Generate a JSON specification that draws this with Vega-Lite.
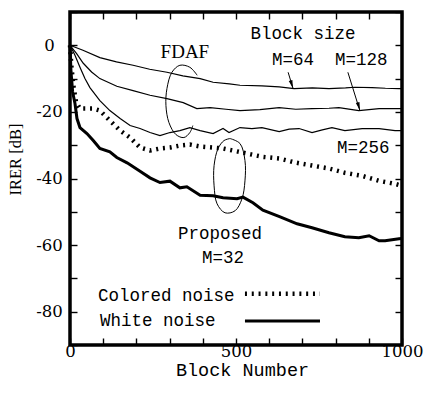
{
  "$schema": "https://vega.github.io/schema/vega-lite/v6.json",
  "autosize": {"type": "none"},
  "padding": {"left": 70, "top": 12, "right": 23, "bottom": 48},
  "width": 332,
  "height": 333,
  "background": "white",
  "config": {"view": {"stroke": "black", "strokeWidth": 3.5}, "axis": {"grid": false, "ticks": true, "tickColor": "#000000", "tickWidth": 1.4, "tickSize": 7}},
  "datasets": {
    "fdaf": [
      {"m": "M=64", "x": 0, "y": 0}, {"m": "M=64", "x": 39, "y": -1.5}, {"m": "M=64", "x": 90, "y": -3.7}, {"m": "M=64", "x": 140, "y": -5}, {"m": "M=64", "x": 190, "y": -6}, {"m": "M=64", "x": 240, "y": -7.2}, {"m": "M=64", "x": 292, "y": -8.1}, {"m": "M=64", "x": 340, "y": -9.2}, {"m": "M=64", "x": 392, "y": -10}, {"m": "M=64", "x": 431, "y": -11.1}, {"m": "M=64", "x": 480, "y": -11.6}, {"m": "M=64", "x": 512, "y": -12}, {"m": "M=64", "x": 578, "y": -12.2}, {"m": "M=64", "x": 630, "y": -12.5}, {"m": "M=64", "x": 675, "y": -13}, {"m": "M=64", "x": 730, "y": -12.8}, {"m": "M=64", "x": 780, "y": -13}, {"m": "M=64", "x": 830, "y": -12.8}, {"m": "M=64", "x": 858, "y": -12.6}, {"m": "M=64", "x": 910, "y": -12.7}, {"m": "M=64", "x": 950, "y": -12.9}, {"m": "M=64", "x": 991, "y": -13}, {"m": "M=64", "x": 1000, "y": -13},
      {"m": "M=128", "x": 0, "y": 0}, {"m": "M=128", "x": 20, "y": -2.5}, {"m": "M=128", "x": 40, "y": -5.4}, {"m": "M=128", "x": 65, "y": -8}, {"m": "M=128", "x": 90, "y": -10}, {"m": "M=128", "x": 141, "y": -12.3}, {"m": "M=128", "x": 190, "y": -13.6}, {"m": "M=128", "x": 241, "y": -15}, {"m": "M=128", "x": 292, "y": -16}, {"m": "M=128", "x": 341, "y": -17.2}, {"m": "M=128", "x": 382, "y": -19}, {"m": "M=128", "x": 422, "y": -18.7}, {"m": "M=128", "x": 470, "y": -19.2}, {"m": "M=128", "x": 512, "y": -19.6}, {"m": "M=128", "x": 572, "y": -19.3}, {"m": "M=128", "x": 630, "y": -18.7}, {"m": "M=128", "x": 680, "y": -19.2}, {"m": "M=128", "x": 729, "y": -19}, {"m": "M=128", "x": 780, "y": -18.9}, {"m": "M=128", "x": 810, "y": -18.7}, {"m": "M=128", "x": 870, "y": -19.6}, {"m": "M=128", "x": 931, "y": -19}, {"m": "M=128", "x": 991, "y": -19}, {"m": "M=128", "x": 1000, "y": -19},
      {"m": "M=256", "x": 0, "y": 0}, {"m": "M=256", "x": 15, "y": -3}, {"m": "M=256", "x": 30, "y": -6.6}, {"m": "M=256", "x": 45, "y": -10}, {"m": "M=256", "x": 60, "y": -12.7}, {"m": "M=256", "x": 90, "y": -16.6}, {"m": "M=256", "x": 120, "y": -19.6}, {"m": "M=256", "x": 151, "y": -22}, {"m": "M=256", "x": 181, "y": -24.1}, {"m": "M=256", "x": 211, "y": -25}, {"m": "M=256", "x": 241, "y": -26.2}, {"m": "M=256", "x": 271, "y": -27.1}, {"m": "M=256", "x": 301, "y": -26.2}, {"m": "M=256", "x": 331, "y": -25.6}, {"m": "M=256", "x": 361, "y": -24.7}, {"m": "M=256", "x": 392, "y": -25.6}, {"m": "M=256", "x": 431, "y": -26.5}, {"m": "M=256", "x": 461, "y": -25}, {"m": "M=256", "x": 479, "y": -26.2}, {"m": "M=256", "x": 512, "y": -24.7}, {"m": "M=256", "x": 548, "y": -25}, {"m": "M=256", "x": 578, "y": -24.7}, {"m": "M=256", "x": 630, "y": -25.9}, {"m": "M=256", "x": 660, "y": -25.2}, {"m": "M=256", "x": 690, "y": -25}, {"m": "M=256", "x": 729, "y": -26.2}, {"m": "M=256", "x": 760, "y": -25.4}, {"m": "M=256", "x": 789, "y": -24.7}, {"m": "M=256", "x": 828, "y": -25.6}, {"m": "M=256", "x": 880, "y": -25}, {"m": "M=256", "x": 931, "y": -25}, {"m": "M=256", "x": 979, "y": -25.6}, {"m": "M=256", "x": 1000, "y": -25.6}
    ],
    "colored": [
      {"x": 0, "y": 0}, {"x": 4, "y": -6}, {"x": 10, "y": -12}, {"x": 18, "y": -17}, {"x": 30, "y": -19}, {"x": 70, "y": -19}, {"x": 90, "y": -19.6}, {"x": 120, "y": -22.6}, {"x": 151, "y": -25.6}, {"x": 181, "y": -27.7}, {"x": 211, "y": -30.7}, {"x": 241, "y": -31.6}, {"x": 271, "y": -31}, {"x": 301, "y": -30.7}, {"x": 331, "y": -30.1}, {"x": 361, "y": -29.8}, {"x": 392, "y": -30.4}, {"x": 431, "y": -30.7}, {"x": 461, "y": -31}, {"x": 500, "y": -31.8}, {"x": 533, "y": -32.5}, {"x": 581, "y": -33.5}, {"x": 630, "y": -34}, {"x": 678, "y": -35.2}, {"x": 729, "y": -36.1}, {"x": 780, "y": -37}, {"x": 828, "y": -38.3}, {"x": 880, "y": -39.2}, {"x": 931, "y": -40.7}, {"x": 979, "y": -41.6}, {"x": 1000, "y": -42.2}
    ],
    "white": [
      {"x": 0, "y": 0}, {"x": 3, "y": -8}, {"x": 8, "y": -14}, {"x": 15, "y": -17.5}, {"x": 21, "y": -22}, {"x": 30, "y": -24.7}, {"x": 51, "y": -26.5}, {"x": 70, "y": -28.6}, {"x": 90, "y": -31}, {"x": 120, "y": -32}, {"x": 141, "y": -33.7}, {"x": 172, "y": -35.3}, {"x": 211, "y": -37.8}, {"x": 241, "y": -39.8}, {"x": 271, "y": -41.2}, {"x": 301, "y": -40.8}, {"x": 331, "y": -42.8}, {"x": 352, "y": -42.5}, {"x": 392, "y": -45}, {"x": 431, "y": -45.2}, {"x": 461, "y": -45.8}, {"x": 503, "y": -46.1}, {"x": 521, "y": -45.6}, {"x": 551, "y": -47.3}, {"x": 581, "y": -49.5}, {"x": 633, "y": -51.5}, {"x": 684, "y": -53.6}, {"x": 729, "y": -54.8}, {"x": 780, "y": -56.3}, {"x": 828, "y": -57.5}, {"x": 870, "y": -57.8}, {"x": 901, "y": -57.2}, {"x": 931, "y": -58.7}, {"x": 949, "y": -58.7}, {"x": 991, "y": -58.1}, {"x": 1000, "y": -58}
    ],
    "loops": [
      {"loop": "FDAF", "i": 0, "x": 383, "y": -9}, {"loop": "FDAF", "i": 1, "x": 361, "y": -6.6}, {"loop": "FDAF", "i": 2, "x": 331, "y": -6}, {"loop": "FDAF", "i": 3, "x": 307, "y": -8.1}, {"loop": "FDAF", "i": 4, "x": 292, "y": -13}, {"loop": "FDAF", "i": 5, "x": 289, "y": -18.1}, {"loop": "FDAF", "i": 6, "x": 298, "y": -23.2}, {"loop": "FDAF", "i": 7, "x": 319, "y": -26.8}, {"loop": "FDAF", "i": 8, "x": 343, "y": -27.7}, {"loop": "FDAF", "i": 9, "x": 361, "y": -26.2}, {"loop": "FDAF", "i": 10, "x": 370, "y": -24.1},
      {"loop": "Prop", "i": 0, "x": 482, "y": -28}, {"loop": "Prop", "i": 1, "x": 512, "y": -29.5}, {"loop": "Prop", "i": 2, "x": 527, "y": -34.6}, {"loop": "Prop", "i": 3, "x": 527, "y": -40.7}, {"loop": "Prop", "i": 4, "x": 518, "y": -46.1}, {"loop": "Prop", "i": 5, "x": 497, "y": -49.7}, {"loop": "Prop", "i": 6, "x": 467, "y": -50.3}, {"loop": "Prop", "i": 7, "x": 443, "y": -47.6}, {"loop": "Prop", "i": 8, "x": 434, "y": -42.2}, {"loop": "Prop", "i": 9, "x": 434, "y": -36.1}, {"loop": "Prop", "i": 10, "x": 446, "y": -31}, {"loop": "Prop", "i": 11, "x": 464, "y": -28.6}, {"loop": "Prop", "i": 12, "x": 482, "y": -28}
    ],
    "arrows": [
      {"x": 657, "y": -8.1, "x2": 672, "y2": -13},
      {"x": 837, "y": -8.1, "x2": 873, "y2": -19.6}
    ],
    "heads": [
      {"x": 668, "y": -11.75},
      {"x": 870, "y": -18.4}
    ],
    "legend": [
      {"s": "Colored", "x": 527, "y": -74.6}, {"s": "Colored", "x": 753, "y": -74.6},
      {"s": "White", "x": 527, "y": -82.8}, {"s": "White", "x": 753, "y": -82.8}
    ],
    "labels": [
      {"t": "Block size", "x": 702, "y": 3.3},
      {"t": "M=64", "x": 672, "y": -4.5},
      {"t": "M=128", "x": 877, "y": -4.5},
      {"t": "M=256", "x": 883, "y": -30.9},
      {"t": "Proposed", "x": 452, "y": -56.6},
      {"t": "M=32", "x": 461, "y": -63.9}
    ],
    "leftlabels": [
      {"t": "Colored noise", "x": 84, "y": -75.3},
      {"t": "White noise", "x": 90, "y": -82.8}
    ],
    "serif": [
      {"t": "FDAF", "x": 346, "y": -2.1}
    ]
  },
  "resolve": {"axis": {"x": "independent", "y": "independent"}},
  "layer": [
    {
      "data": {"name": "fdaf"},
      "mark": {"type": "line", "color": "black", "strokeWidth": 1.2},
      "encoding": {
        "x": {"field": "x", "type": "quantitative", "scale": {"domain": [0, 1000], "nice": false, "zero": false},
          "axis": {"orient": "bottom", "title": "Block Number", "values": [0, 100, 200, 300, 400, 500, 600, 700, 800, 900, 1000],
            "labelExpr": "datum.value % 500 === 0 ? '' + datum.value : ''", "labelFlush": false, "labelOverlap": false, "labelBound": false,
            "labelFont": "DejaVu Serif", "labelFontSize": 16.5, "labelColor": "black", "labelPadding": -2, "labelBaseline": "top",
            "offset": -7, "domain": false,
            "titleFont": "Liberation Mono", "titleFontSize": 18.5, "titleFontWeight": "normal", "titleColor": "black",
            "titleX": 172, "titleY": 31, "titleBaseline": "middle"}},
        "y": {"field": "y", "type": "quantitative", "scale": {"domain": [-90, 10], "nice": false, "zero": false},
          "axis": {"orient": "left", "title": "IRER [dB]", "values": [-90, -80, -70, -60, -50, -40, -30, -20, -10, 0, 10],
            "labelExpr": "datum.value % 20 === 0 ? '' + datum.value : ''", "labelFlush": false, "labelOverlap": false, "labelBound": false,
            "labelFont": "DejaVu Serif", "labelFontSize": 16.5, "labelColor": "black", "labelPadding": 21, "labelAlign": "center", "labelBaseline": "middle",
            "offset": -7, "domain": false,
            "titleFont": "Liberation Serif", "titleFontSize": 16.5, "titleFontWeight": "normal", "titleColor": "black",
            "titleX": -62, "titleY": 147, "titleBaseline": "middle", "titleAlign": "center", "titleAngle": -90}},
        "detail": {"field": "m"}
      }
    },
    {
      "data": {"name": "fdaf"},
      "mark": {"type": "point", "opacity": 0},
      "encoding": {
        "x": {"field": "x", "type": "quantitative", "scale": {"domain": [0, 1000], "nice": false, "zero": false},
          "axis": {"orient": "top", "title": null, "labels": false, "values": [0, 100, 200, 300, 400, 500, 600, 700, 800, 900, 1000],
            "offset": -7, "domain": false}},
        "y": {"field": "y", "type": "quantitative", "scale": {"domain": [-90, 10], "nice": false, "zero": false},
          "axis": {"orient": "right", "title": null, "labels": false, "values": [-90, -80, -70, -60, -50, -40, -30, -20, -10, 0, 10],
            "offset": -7, "domain": false}}
      }
    },
    {
      "data": {"name": "colored"},
      "mark": {"type": "line", "color": "black", "strokeWidth": 4.5, "strokeDash": [2, 4.8], "strokeCap": "butt"},
      "encoding": {
        "x": {"field": "x", "type": "quantitative", "scale": {"domain": [0, 1000], "nice": false, "zero": false}, "axis": null},
        "y": {"field": "y", "type": "quantitative", "scale": {"domain": [-90, 10], "nice": false, "zero": false}, "axis": null}
      }
    },
    {
      "data": {"name": "white"},
      "mark": {"type": "line", "color": "black", "strokeWidth": 3},
      "encoding": {
        "x": {"field": "x", "type": "quantitative", "scale": {"domain": [0, 1000], "nice": false, "zero": false}, "axis": null},
        "y": {"field": "y", "type": "quantitative", "scale": {"domain": [-90, 10], "nice": false, "zero": false}, "axis": null}
      }
    },
    {
      "data": {"name": "loops"},
      "mark": {"type": "line", "color": "black", "strokeWidth": 1, "interpolate": "catmull-rom"},
      "encoding": {
        "x": {"field": "x", "type": "quantitative", "scale": {"domain": [0, 1000], "nice": false, "zero": false}, "axis": null},
        "y": {"field": "y", "type": "quantitative", "scale": {"domain": [-90, 10], "nice": false, "zero": false}, "axis": null},
        "detail": {"field": "loop"},
        "order": {"field": "i", "type": "quantitative"}
      }
    },
    {
      "data": {"name": "arrows"},
      "mark": {"type": "rule", "color": "black", "strokeWidth": 1},
      "encoding": {
        "x": {"field": "x", "type": "quantitative", "scale": {"domain": [0, 1000], "nice": false, "zero": false}, "axis": null},
        "y": {"field": "y", "type": "quantitative", "scale": {"domain": [-90, 10], "nice": false, "zero": false}, "axis": null},
        "x2": {"field": "x2"},
        "y2": {"field": "y2"}
      }
    },
    {
      "data": {"name": "heads"},
      "mark": {"type": "point", "shape": "M0,1L-0.45,-1L0.45,-1Z", "filled": true, "color": "black", "opacity": 1, "size": 70, "angle": -17},
      "encoding": {
        "x": {"field": "x", "type": "quantitative", "scale": {"domain": [0, 1000], "nice": false, "zero": false}, "axis": null},
        "y": {"field": "y", "type": "quantitative", "scale": {"domain": [-90, 10], "nice": false, "zero": false}, "axis": null}
      }
    },
    {
      "data": {"name": "legend"},
      "transform": [{"filter": "datum.s === 'Colored'"}],
      "mark": {"type": "line", "color": "black", "strokeWidth": 4.5, "strokeDash": [2, 4.8], "strokeCap": "butt"},
      "encoding": {
        "x": {"field": "x", "type": "quantitative", "scale": {"domain": [0, 1000], "nice": false, "zero": false}, "axis": null},
        "y": {"field": "y", "type": "quantitative", "scale": {"domain": [-90, 10], "nice": false, "zero": false}, "axis": null}
      }
    },
    {
      "data": {"name": "legend"},
      "transform": [{"filter": "datum.s === 'White'"}],
      "mark": {"type": "line", "color": "black", "strokeWidth": 3},
      "encoding": {
        "x": {"field": "x", "type": "quantitative", "scale": {"domain": [0, 1000], "nice": false, "zero": false}, "axis": null},
        "y": {"field": "y", "type": "quantitative", "scale": {"domain": [-90, 10], "nice": false, "zero": false}, "axis": null}
      }
    },
    {
      "data": {"name": "labels"},
      "mark": {"type": "text", "font": "Liberation Mono", "fontSize": 17.5, "color": "black", "align": "center", "baseline": "middle"},
      "encoding": {
        "x": {"field": "x", "type": "quantitative", "scale": {"domain": [0, 1000], "nice": false, "zero": false}, "axis": null},
        "y": {"field": "y", "type": "quantitative", "scale": {"domain": [-90, 10], "nice": false, "zero": false}, "axis": null},
        "text": {"field": "t"}
      }
    },
    {
      "data": {"name": "leftlabels"},
      "mark": {"type": "text", "font": "Liberation Mono", "fontSize": 17.5, "color": "black", "align": "left", "baseline": "middle"},
      "encoding": {
        "x": {"field": "x", "type": "quantitative", "scale": {"domain": [0, 1000], "nice": false, "zero": false}, "axis": null},
        "y": {"field": "y", "type": "quantitative", "scale": {"domain": [-90, 10], "nice": false, "zero": false}, "axis": null},
        "text": {"field": "t"}
      }
    },
    {
      "data": {"name": "serif"},
      "mark": {"type": "text", "font": "Liberation Serif", "fontSize": 19, "color": "black", "align": "center", "baseline": "middle"},
      "encoding": {
        "x": {"field": "x", "type": "quantitative", "scale": {"domain": [0, 1000], "nice": false, "zero": false}, "axis": null},
        "y": {"field": "y", "type": "quantitative", "scale": {"domain": [-90, 10], "nice": false, "zero": false}, "axis": null},
        "text": {"field": "t"}
      }
    }
  ]
}
